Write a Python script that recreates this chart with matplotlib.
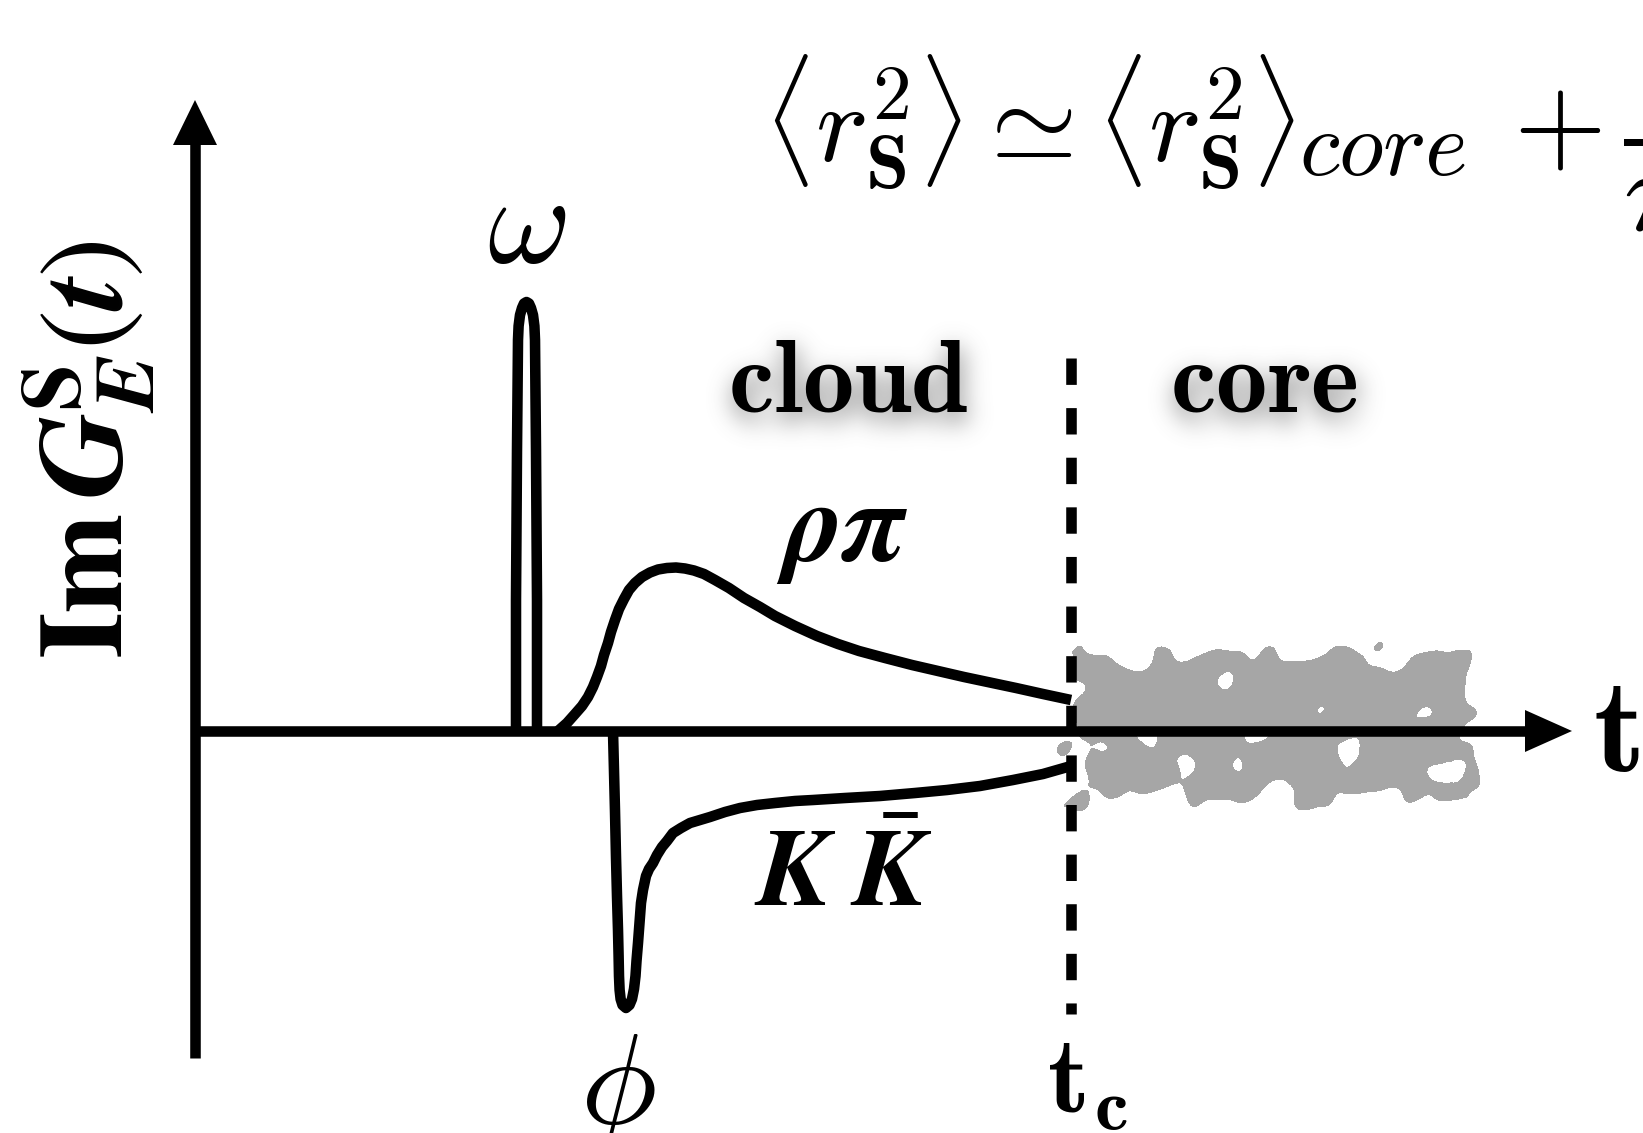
import numpy as np
import matplotlib
matplotlib.use("Agg")
import matplotlib.pyplot as plt

# sketch units: 1 unit = 1 px of the saved figure, origin where the axes cross
t_c = 876

# omega: very narrow spike
omega_t = [321, 321, 322, 323, 323.6, 325, 327, 329, 331.5, 334, 336, 338, 339.4, 340, 341, 342, 342]
omega_g = [0, 131, 281, 391, 405, 416, 423, 427.5, 429, 427.5, 423, 416, 405, 391, 281, 131, 0]

# rho-pi: broad bump decaying towards t_c
rhopi_t = [363, 372, 380, 387, 393, 398, 402, 406, 409, 413, 416, 420, 424, 429, 434, 440, 447, 455,
           463, 472, 481, 490, 499, 509, 520, 534, 549, 565, 580, 600, 622, 643, 664, 690, 717, 743,
           769, 795, 821, 848, 876]
rhopi_g = [0, 8, 17, 25, 34, 44, 54, 65, 76, 88, 99, 111, 122, 132, 141, 148, 154, 158.5,
           161.5, 163, 163.5, 162.5, 160.5, 157, 151, 143, 133, 124, 115, 105, 95, 87, 80, 73, 66, 60,
           54, 48.5, 43, 37, 31]

# phi dip followed by the K Kbar tail
kk_t = [418, 419, 420, 421, 422, 423, 423.6, 424, 424.6, 425.6, 427.5, 431, 434.5, 437, 439, 440.5,
        441.5, 443, 444.5, 446, 448, 451, 454, 458, 462, 467, 472, 478, 486, 495, 505, 515, 530,
        545, 562, 580, 600, 618, 650, 685, 720, 752, 785, 818, 848, 876]
kk_g = [0, -40, -80, -126, -165, -199, -225, -245, -259, -268, -274, -277, -274, -268, -258, -245,
        -230, -212, -192, -172, -159, -145, -138, -132, -124, -116, -110, -102, -97, -92, -89, -86, -81,
        -77, -74, -72, -70, -69, -67, -65, -62, -59, -55, -49, -43, -35]

LW = 7.6
GRAY = "#a6a6a6"

plt.rcParams["mathtext.fontset"] = "cm"


def gauss_blur(a, sigma):
    r = int(3 * sigma)
    k = np.exp(-np.arange(-r, r + 1) ** 2 / (2.0 * sigma ** 2))
    k /= k.sum()
    a = np.apply_along_axis(lambda m: np.convolve(m, k, mode="same"), 0, a)
    a = np.apply_along_axis(lambda m: np.convolve(m, k, mode="same"), 1, a)
    return a


def soft_shadow(im, dpi):
    pad = 50
    a = np.pad(im[:, :, 3], pad)
    a = np.roll(a, 9, axis=0)
    a = np.roll(a, 2, axis=1)
    a = gauss_blur(a, 12) * 0.9
    out = np.zeros(a.shape + (4,))
    out[..., :3] = 0.42
    out[..., 3] = np.clip(a, 0, 1)
    return out, -pad, -pad


fig = plt.figure(figsize=(16.43, 11.33), dpi=100)
ax = fig.add_axes([0, 0, 1, 1])
ax.set_xlim(-195, 1448)
ax.set_ylim(-402, 731)
ax.axis("off")

# noisy grey patch standing for the core region
X, Y = np.meshgrid(np.arange(860, 1300, 1.0), np.arange(-95, 110, 1.0))
waves = [(0.07, 0.03, 0.3, 0.30), (-0.05, 0.09, 1.7, 0.28), (0.12, -0.06, 2.9, 0.24),
         (0.03, 0.14, 4.1, 0.22), (-0.10, -0.11, 5.3, 0.20), (0.17, 0.08, 0.9, 0.14),
         (0.06, -0.19, 3.4, 0.14), (0.23, -0.04, 2.2, 0.10), (-0.19, 0.21, 1.1, 0.08)]
noise = sum(a * np.sin(kx * X + ky * Y + p) for kx, ky, p, a in waves)
ex = np.minimum(X - 882, 1270 - X) / 14
ey = np.minimum((74 - Y) / 16, (Y + 64) / 12)
env = np.clip(np.minimum(ex, ey), -2, 1)
amp = np.where(Y < 0, 1.75, 1.05)
ax.contourf(X, Y, env + amp * noise, levels=[0, 100], colors=[GRAY], zorder=1)

# axes with arrow heads
ax.plot([0, 0], [-327, 590], color="k", lw=LW, solid_capstyle="butt", zorder=3)
ax.plot([0, 1335], [0, 0], color="k", lw=LW, solid_capstyle="butt", zorder=3)
ax.fill([-22, 22, 0], [586, 586, 631], color="k", lw=0, zorder=3)
ax.fill([1330, 1330, 1377], [-21, 21, 0], color="k", lw=0, zorder=3)

# t_c marker
ax.plot([t_c, t_c], [373, -283], color="k", lw=LW, ls=(0, (2.5, 2.2)), zorder=4)

kw = dict(color="k", lw=LW, solid_capstyle="butt", solid_joinstyle="round", zorder=2)
ax.plot(omega_t, omega_g, **kw)
ax.plot(rhopi_t, rhopi_g, **kw)
ax.plot(kk_t, kk_g, **kw)

# labels
ax.text(332, 468, r"$\omega$", fontsize=92, ha="center", va="baseline")
ax.text(423, -295, r"$\phi$", fontsize=92, ha="center", va="top")
ax.text(647, 170, r"$\mathbfit{\rho\pi}$", fontsize=82, ha="center", va="baseline",
        math_fontfamily="stix")
ax.text(648, -175, r"$\mathbfit{K}\;\bar{\mathbfit{K}}$", fontsize=80, ha="center", va="baseline",
        math_fontfamily="stix")
ax.text(852, -381, r"$\mathbf{t}_\mathbf{c}$", fontsize=78, ha="left", va="baseline")
ax.text(1398, -40, r"$\mathbf{t}$", fontsize=96, ha="left", va="baseline")
ax.text(-106, 281, r"$\mathbf{Im}\,\mathbfit{G}_{\mathbfit{E}}^{\mathbf{S}}(\mathbfit{t})$",
        fontsize=86, rotation=90, ha="center", va="center", math_fontfamily="stix")

# formula, split so the subscript can be set larger
ax.text(568, 569,
        r"$\langle r_{\mathbf{S}}^{\mathbf{2}}\rangle \simeq \langle r_{\mathbf{S}}^{\mathbf{2}}\rangle$",
        fontsize=80, ha="left", va="baseline")
ax.text(1104, 556, r"$core$", fontsize=66, ha="left", va="baseline")
ax.text(1318, 569, r"$+\,\dfrac{1}{\pi\, t_c}$", fontsize=86, ha="left", va="baseline")

for word, xc in [("cloud", 653), ("core", 1069)]:
    sh = ax.text(xc, 319, r"$\mathbf{%s}$" % word, fontsize=74, ha="center", va="baseline", zorder=5)
    sh.set_agg_filter(soft_shadow)
    ax.text(xc, 319, r"$\mathbf{%s}$" % word, fontsize=74, ha="center", va="baseline", zorder=6)

fig.savefig("out.png", dpi=100)
